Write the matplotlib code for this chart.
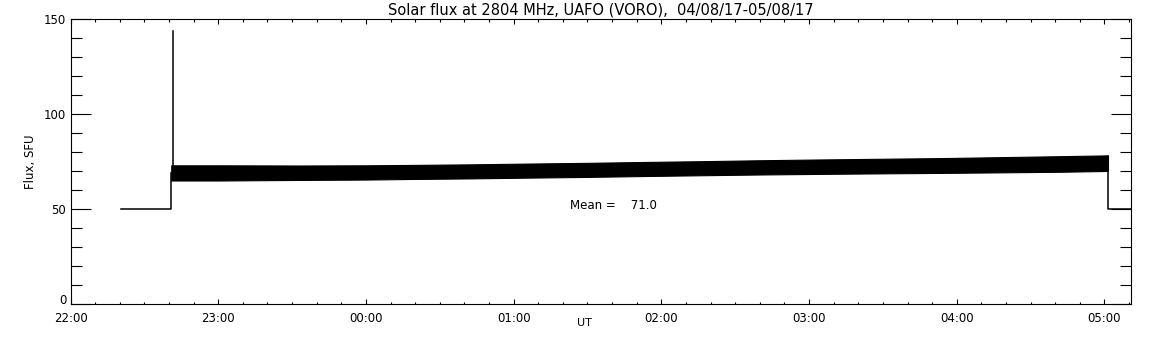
import numpy as np
import matplotlib
matplotlib.use("Agg")
import matplotlib.pyplot as plt
from matplotlib.ticker import MultipleLocator

# time axis in hours after 22:00 UT
hour_labels = ["22:00", "23:00", "00:00", "01:00", "02:00", "03:00", "04:00", "05:00"]
x_end = 7.18

# flat 50 SFU level before the record starts
pre_t = [0.344, 0.682, 0.682]
pre_flux = [50, 50, 69]

# single spike at the start of the record
spike_t = [0.695, 0.695]
spike_flux = [69, 143.7]

# envelope of the noisy flux record
band_t = [0.682, 1.0, 1.55, 2.0, 2.3, 2.7, 3.08, 3.5, 3.92, 4.3, 4.7, 5.1, 5.55, 5.9, 6.3, 6.7, 7.0, 7.024]
band_lo = [65.0, 65.0, 65.3, 65.5, 65.8, 66.1, 66.5, 66.9, 67.4, 67.8, 68.2, 68.5, 68.8, 69.0, 69.3, 69.6, 70.0, 70.1]
band_hi = [73.0, 73.0, 72.9, 73.0, 73.2, 73.5, 73.9, 74.3, 74.8, 75.2, 75.7, 76.1, 76.5, 76.8, 77.3, 77.8, 78.2, 78.3]

# drop back to 50 SFU after the record ends
post_t = [7.024, 7.024, x_end]
post_flux = [74, 50, 50]

mean_flux = 71.0

plt.rcParams['font.family'] = 'DejaVu Sans'
fig = plt.figure(figsize=(11.52, 3.45), dpi=100)
ax = fig.add_axes([0.0612, 0.1188, 0.9206, 0.8261])

ax.plot(pre_t, pre_flux, color='black', lw=1.1)
ax.plot(spike_t, spike_flux, color='black', lw=1.1)
ax.fill_between(band_t, band_lo, band_hi, color='black', lw=0.8)
ax.plot(post_t, post_flux, color='black', lw=1.1)

ax.text(3.385, 52.1, "Mean =    %.1f" % mean_flux, fontsize=8.5, va='center', ha='left')

ax.set_xlim(0, x_end)
ax.set_ylim(0, 150)

ax.set_xticks(range(len(hour_labels)))
ax.set_xticklabels(hour_labels)
ax.xaxis.set_minor_locator(MultipleLocator(1 / 6))
ax.set_yticks([0, 50, 100, 150])
ax.set_yticklabels(["0", "50", "100", "150"])
ax.yaxis.set_minor_locator(MultipleLocator(10))

ax.tick_params(axis='x', which='major', direction='in', length=3.6, width=0.8, top=True, labelsize=8.5, pad=5.5)
ax.tick_params(axis='x', which='minor', direction='in', length=1.8, width=0.8, top=True)
ax.tick_params(axis='y', which='major', direction='in', length=14.4, width=0.8, right=True, labelsize=8.5, pad=3)
ax.tick_params(axis='y', which='minor', direction='in', length=7.9, width=0.8, right=True)
for s in ax.spines.values():
    s.set_linewidth(0.8)
# the "0" label sits on the axis line, as in the original
ax.get_yticklabels()[0].set_verticalalignment('baseline')

ax.set_ylabel("Flux, SFU", fontsize=8.5, labelpad=5)
ax.text((577 - 70.5) / 1060.5, -0.05, "UT", transform=ax.transAxes, fontsize=8, ha='left', va='top')
ax.set_title("Solar flux at 2804 MHz, UAFO (VORO),  04/08/17-05/08/17", fontsize=10.5, pad=3)

fig.savefig("out.png", dpi=100)
